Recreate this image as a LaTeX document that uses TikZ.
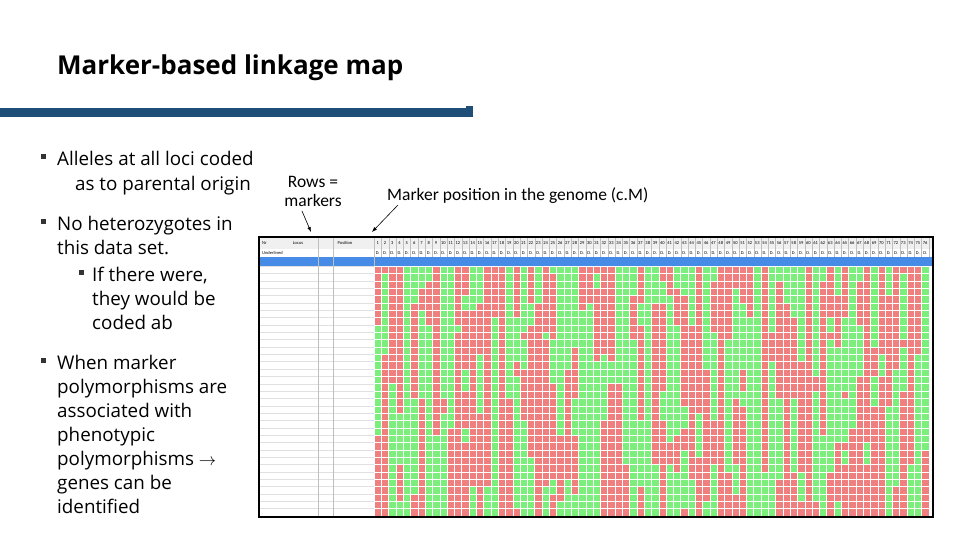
\documentclass[tikz,border=0pt]{standalone}
\usepackage{fontspec}
\setmainfont{Carlito}
\newfontfamily\osans{Open Sans}
\usetikzlibrary{arrows.meta}
\definecolor{cgreen}{RGB}{124,238,124}
\definecolor{cred}{RGB}{240,128,128}
\definecolor{barblue}{RGB}{31,78,121}
\definecolor{rowblue}{RGB}{70,140,230}
\begin{document}
\begin{tikzpicture}[x=1pt,y=-1pt,
  bul/.style={anchor=base west,font=\osans\fontsize{18.8}{21}\selectfont,inner sep=0pt},
  sq/.style={fill=black!80,minimum size=5pt,inner sep=0pt},
  lab/.style={font=\fontsize{17.5}{19}\selectfont,align=center,inner sep=0pt},
  arr/.style={-{Latex[length=5pt]},line width=0.6pt},
  tiny/.style={font=\fontsize{4.5}{5}\selectfont,inner sep=0pt}]
\useasboundingbox (0,0) rectangle (960,540);
\node[anchor=west,font=\osans\bfseries\fontsize{26}{30}\selectfont,inner sep=0pt] (title) at (57,68) {Marker-based linkage map};
\fill[barblue] (0,108) rectangle (470,117);
\fill[barblue] (466,106) rectangle (473,117);
% bullets
\node[sq] (b1) at (43,157) {};
\node[bul] (t1a) at (57,166) {Alleles at all loci coded};
\node[bul] (t1b) at (75,190) {as to parental origin};
\node[sq] (b2) at (43,221) {};
\node[bul] (t2a) at (57,230) {No heterozygotes in};
\node[bul] (t2b) at (57,254) {this data set.};
\node[sq] (b3) at (81,272) {};
\node[bul] (t3a) at (92,281) {If there were,};
\node[bul] (t3b) at (92,305) {they would be};
\node[bul] (t3c) at (92,329) {coded ab};
\node[sq] (b4) at (43,360) {};
\node[bul] (t4a) at (57,369) {When marker};
\node[bul] (t4b) at (57,393) {polymorphisms are};
\node[bul] (t4c) at (57,417) {associated with};
\node[bul] (t4d) at (57,441) {phenotypic};
\node[bul] (t4e) at (57,465) {polymorphisms $\rightarrow$};
\node[bul] (t4f) at (57,489) {genes can be};
\node[bul] (t4g) at (57,513) {identified};
% labels
\node[lab] (rows) at (313,191) {Rows =\\markers};
\node[lab,anchor=west] (mpos) at (387,196) {Marker position in the genome (c.M)};
\coordinate (rs) at (302,211);
\coordinate (rowsend) at (311,232);
\coordinate (ms) at (398,205);
\coordinate (mposend) at (372,232);
\draw[arr] (rs) -- (rowsend);
\draw[arr] (ms) -- (mposend);
% table
\fill[white] (259,237) rectangle (933,517);
\fill[black!6] (259,237) rectangle (933,249);
\fill[rowblue] (259,257) rectangle (933,266);
\node[tiny,anchor=west] (hnr) at (262,243) {Nr};
\node[tiny] (hloc) at (298,243) {Locus};
\node[tiny] (hpos) at (345,243) {Position};
\node[tiny,anchor=west] (hund) at (262,253) {Underlined};
\foreach \c in {1,...,76}{
  \node[tiny] at (374+\c*7.3-3.65,243) {\c};
  \node[tiny] at (374+\c*7.3-3.65,253) {D.};
  \draw[black!25,line width=0.2pt] (374+\c*7.3,237) -- (374+\c*7.3,257);
}
\foreach \r in {0,...,33}{
  \draw[black!12,line width=0.2pt] (259,266+\r*7.35) -- (374,266+\r*7.35);
}
\draw[black!25,line width=0.2pt] (318,237) -- (318,517) (333,237)--(333,517) (374,237)--(374,517);
\pgfmathsetseed{11}
\foreach \c in {0,...,75}{
  \pgfmathrandominteger{\s}{0}{1}\xdef\st{\s}
  \foreach \r in {0,...,33}{
    \pgfmathrandominteger{\f}{0}{99}
    \ifnum\f<7 \pgfmathtruncatemacro{\ns}{1-\st}\xdef\st{\ns}\fi
    \ifnum\st=1 \def\col{cred}\else\def\col{cgreen}\fi
    \fill[\col,draw=white,line width=0.3pt] (374+\c*7.3,266+\r*7.35) rectangle ++(7.3,7.35);
  }
}
\draw[black,line width=2.5pt] (259,237) rectangle (933,517);
\end{tikzpicture}
\end{document}
